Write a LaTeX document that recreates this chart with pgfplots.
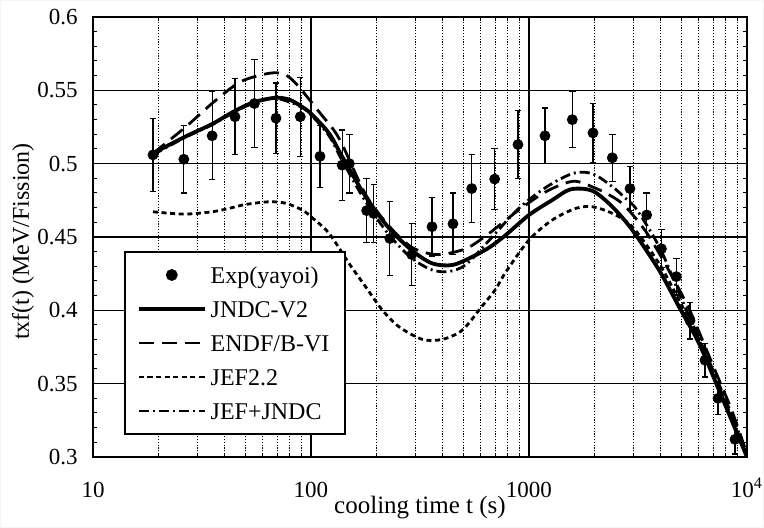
\documentclass[border=0pt]{standalone}
\usepackage{fontspec}
\setmainfont{Liberation Serif}
\usepackage{pgfplots}
\pgfplotsset{compat=1.18}
\usepackage{pgfplotstable}

% measured points, t in s
\pgfplotstableread{
t y e
18.85 0.506 0.025
26.1 0.503 0.023
35.2 0.519 0.030
44.8 0.532 0.026
55.0 0.541 0.030
69.1 0.531 0.024
89.3 0.532 0.027
110 0.505 0.021
139 0.499 0.024
150 0.500 0.020
180 0.468 0.022
194 0.466 0.020
230 0.449 0.025
290 0.438 0.021
359 0.457 0.020
448 0.459 0.021
546 0.483 0.023
696 0.4895 0.021
890 0.513 0.023
1184 0.519 0.019
1580 0.530 0.019
1966 0.521 0.020
2411 0.504 0.016
2906 0.483 0.015
3467 0.465 0.015
4050 0.442 0.013
4740 0.423 0.0125
5480 0.393 0.0125
6418 0.366 0.0115
7362 0.340 0.011
8810 0.312 0.010
}\expdata

\pgfplotstableread{
t y
18.85 0.507
26.15 0.518
35.15 0.527
44.8 0.536
54.95 0.542
69.1 0.545
80 0.5435
89.3 0.5395
99.7 0.5343
121 0.5207
139.2 0.5047
178.2 0.4775
228 0.456
289.7 0.441
360 0.432
445 0.4309
549.5 0.4365
660 0.4430
781.8 0.4513
1000 0.465
1279 0.4752
1553 0.4825
1952 0.4815
2411 0.4706
2979 0.4547
3948 0.4275
4877 0.4024
6024 0.3775
7439 0.3456
10000 0.300
}\jndc

\pgfplotstableread{
t y
18.85 0.507
26.6 0.525
35.9 0.5422
47.6 0.5559
64.2 0.5616
75 0.5610
85.1 0.5548
108.8 0.5354
134.4 0.5173
178 0.479
228 0.4575
290 0.4430
378 0.4380
512 0.4420
650 0.4520
890 0.4680
1200 0.4810
1600 0.4880
2023 0.4832
2411 0.4775
2777 0.4706
3500 0.4520
4500 0.4240
5500 0.3990
7000 0.3620
8500 0.3320
10000 0.3020
}\endf

\pgfplotstableread{
t y
18.85 0.4672
26.15 0.4656
35.15 0.4672
42.07 0.4695
50.2 0.4722
64.2 0.4740
76.6 0.4730
91.2 0.4684
99.7 0.4640
121 0.4525
149.4 0.4320
178.2 0.4160
212.4 0.4002
253.3 0.3888
324.1 0.3802
400.3 0.3802
494.3 0.3865
610.6 0.4030
700 0.4140
782 0.4260
1000 0.4480
1279 0.4616
1638 0.4695
1952 0.4706
2411 0.4661
2979 0.4570
3948 0.4320
4877 0.4070
6024 0.3800
7439 0.3480
10000 0.3010
}\jef

\pgfplotstableread{
t y
18.85 0.506
26.15 0.5175
35.15 0.5265
44.8 0.5355
54.95 0.5415
69.1 0.5445
89.3 0.539
99.7 0.5335
121 0.519
139.2 0.502
178.2 0.474
228 0.4515
290 0.4355
360 0.4275
430 0.4265
512 0.4310
650 0.4470
890 0.4690
1200 0.4840
1600 0.4935
1966 0.4930
2411 0.4843
2777 0.4763
3130 0.4684
4000 0.4420
5000 0.4080
6500 0.3700
8500 0.3290
10000 0.3020
}\jefjndc

\begin{document}
\begin{tikzpicture}
\useasboundingbox (-46.5pt,-35.5pt) rectangle (335.5pt,228.5pt);
% faint frame so the page keeps its full extent
\draw[black!4, line width=0.5pt] (-46.25pt,-35.25pt) rectangle (335.25pt,228.25pt);
\begin{axis}[
    at={(0pt,0pt)}, anchor=south west,
    scale only axis, width=327pt, height=220pt,
    xmode=log, xmin=10, xmax=10000,
    ymin=0.3, ymax=0.6,
    xtick={10,100,1000,10000},
    xticklabels={10,100,1000,10\textsuperscript{4}},
    minor xtick={20,30,40,50,60,70,80,90,200,300,400,500,600,700,800,900,2000,3000,4000,5000,6000,7000,8000,9000},
    ytick={0.3,0.35,0.4,0.45,0.5,0.55,0.6},
    minor ytick={0.31,0.32,0.33,0.34,0.36,0.37,0.38,0.39,0.41,0.42,0.43,0.44,0.46,0.47,0.48,0.49,0.51,0.52,0.53,0.54,0.56,0.57,0.58,0.59},
    tick align=inside,
    major tick length=3pt, minor tick length=2pt,
    tick style={black, line width=0.5pt},
    xmajorgrids, ymajorgrids, xminorgrids,
    major grid style={black, line width=0.55pt},
    minor grid style={black, line width=0.45pt, dash pattern=on 0.6pt off 0.8pt},
    axis line style={line width=0.7pt},
    legend image code/.code={\draw[mark repeat=2,mark phase=2,#1] plot coordinates {(0pt,0pt) (16.5pt,0pt) (33pt,0pt)};},
    legend cell align=left,
    legend style={at={(axis description cs:0.0474,0.05)}, anchor=south west,
        font=\fontsize{12}{14}\selectfont, draw=black, line width=0.9pt, fill=white,
        inner xsep=6pt, inner ysep=3.8pt, row sep=1.5pt, column sep=0pt,
        cells={inner xsep=0.5pt, inner ysep=1.5pt, text height=10pt, text depth=1.5pt}},
    xlabel={cooling time t (s)},
    ylabel={txf(t) (MeV/Fission)},
    tick label style={font=\fontsize{11.5}{13}\selectfont},
    yticklabel style={inner sep=0pt, xshift=-7.5pt},
    xticklabel style={inner sep=0pt, anchor=north, text height=7.6pt},
    xticklabel shift=12.5pt,
    xlabel style={font=\fontsize{12.5}{14}\selectfont, at={(axis description cs:0.5,-0.1295)}, anchor=base},
    ylabel style={font=\fontsize{12}{14}\selectfont, at={(axis description cs:-0.0979,0.49)}, anchor=base},
    /pgf/number format/assume math mode=true,
]
\addplot[only marks, mark=*, mark size=2.5pt, black,
    error bars/.cd, y dir=both, y explicit,
    error bar style={line width=0.6pt, black},
    error mark=-,
    error mark options={rotate=90, mark size=1.6pt, line width=0.6pt, black}]
    table[x=t, y=y, y error=e]{\expdata};
\addlegendentry{Exp(yayoi)}
\addplot[black, line width=1.9pt, smooth] table[x=t, y=y]{\jndc};
\addlegendentry{JNDC-V2}
\addplot[black, line width=1.4pt, smooth, dash pattern=on 7.5pt off 4pt] table[x=t, y=y]{\endf};
\addlegendentry{ENDF/B-VI}
\addplot[black, line width=1.4pt, smooth, dash pattern=on 2.5pt off 1.8pt] table[x=t, y=y]{\jef};
\addlegendentry{JEF2.2}
\addplot[black, line width=1.4pt, smooth, dash pattern=on 5pt off 2pt on 1pt off 2pt] table[x=t, y=y]{\jefjndc};
\addlegendentry{JEF+JNDC}
\end{axis}
\end{tikzpicture}
\end{document}
